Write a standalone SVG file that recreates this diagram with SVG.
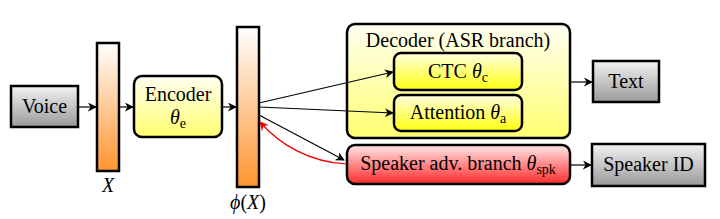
<svg xmlns="http://www.w3.org/2000/svg" width="720" height="219" viewBox="0 0 720 219">
<defs>
<linearGradient id="gGray" x1="0" y1="0" x2="0" y2="1"><stop offset="0" stop-color="#f2f2f2"/><stop offset="1" stop-color="#9a9a9a"/></linearGradient>
<linearGradient id="gOrange" x1="0" y1="0" x2="0" y2="1"><stop offset="0" stop-color="#ffffff"/><stop offset="1" stop-color="#ff9430"/></linearGradient>
<linearGradient id="gYellow" x1="0" y1="0" x2="0" y2="1"><stop offset="0" stop-color="#fffff2"/><stop offset="1" stop-color="#ffff70"/></linearGradient>
<linearGradient id="gYellow2" x1="0" y1="0" x2="0" y2="1"><stop offset="0" stop-color="#ffffe0"/><stop offset="1" stop-color="#ffff10"/></linearGradient>
<linearGradient id="gRed" x1="0" y1="0" x2="0" y2="1"><stop offset="0" stop-color="#ffe8e8"/><stop offset="1" stop-color="#ff2a2a"/></linearGradient>
<marker id="ah" viewBox="0 0 10 10" refX="9" refY="5" markerWidth="9" markerHeight="9" markerUnits="userSpaceOnUse" orient="auto"><path d="M0,0 L10,5 L0,10 L3,5 Z" fill="#000"/></marker>
<marker id="ahr" viewBox="0 0 10 10" refX="9" refY="5" markerWidth="9" markerHeight="9" markerUnits="userSpaceOnUse" orient="auto"><path d="M0,0 L10,5 L0,10 L3,5 Z" fill="#e00"/></marker>
</defs>
<style>
.t{font-family:'Liberation Serif','Times New Roman',serif;font-size:20px;fill:#000;text-anchor:middle}
.i{font-style:italic}
.s{font-size:14px}
.box{stroke:#000;stroke-width:2.5}
.c{fill:none;stroke:#000;stroke-width:1.2}
</style>
<g id="voice"><rect class="box" x="11" y="86" width="67" height="41" fill="url(#gGray)"/><text class="t" x="44.5" y="113">Voice</text></g>
<g id="x"><rect class="box" x="97" y="43" width="22" height="128" fill="url(#gOrange)"/><text class="t i" x="108" y="192">X</text></g>
<g id="encoder"><rect class="box" x="134" y="76" width="88" height="61" rx="8" fill="url(#gYellow)"/><text class="t" x="178" y="101">Encoder</text><text class="t" x="178" y="124"><tspan class="i">θ</tspan><tspan class="s" dy="4">e</tspan></text></g>
<g id="phi"><rect class="box" x="237" y="27" width="22" height="160" fill="url(#gOrange)"/><text class="t" x="248" y="209"><tspan class="i">ϕ</tspan>(<tspan class="i">X</tspan>)</text></g>
<g id="decoder"><rect class="box" x="347" y="24" width="223" height="114" rx="8" fill="url(#gYellow)"/><text class="t" x="458" y="47">Decoder (ASR branch)</text></g>
<g id="ctc"><rect class="box" x="394" y="53" width="128" height="37" rx="7" fill="url(#gYellow2)"/><text class="t" x="458" y="78">CTC <tspan class="i">θ</tspan><tspan class="s" dy="4">c</tspan></text></g>
<g id="attention"><rect class="box" x="394" y="95" width="128" height="36" rx="7" fill="url(#gYellow2)"/><text class="t" x="458" y="119">Attention <tspan class="i">θ</tspan><tspan class="s" dy="4">a</tspan></text></g>
<g id="speaker"><rect class="box" x="347" y="145" width="223" height="39" rx="8" fill="url(#gRed)"/><text class="t" x="458" y="170">Speaker adv. branch <tspan class="i">θ</tspan><tspan class="s" dy="4">spk</tspan></text></g>
<g id="text"><rect class="box" x="593" y="61" width="66" height="41" fill="url(#gGray)"/><text class="t" x="626" y="88">Text</text></g>
<g id="speakerid"><rect class="box" x="592" y="144" width="113" height="42" fill="url(#gGray)"/><text class="t" x="648.5" y="171">Speaker ID</text></g>
<g id="connectors">
<line class="c" x1="78" y1="107" x2="96" y2="107" marker-end="url(#ah)"/>
<line class="c" x1="119" y1="107" x2="133" y2="107" marker-end="url(#ah)"/>
<line class="c" x1="222" y1="107" x2="236" y2="107" marker-end="url(#ah)"/>
<line class="c" x1="259" y1="103" x2="393" y2="72" marker-end="url(#ah)"/>
<line class="c" x1="259" y1="107" x2="393" y2="113" marker-end="url(#ah)"/>
<line class="c" x1="259" y1="115" x2="344" y2="160" marker-end="url(#ah)"/>
<path d="M346,164 C310,162 280,145 260,122" fill="none" stroke="#e00" stroke-width="1.2" marker-end="url(#ahr)"/>
<line class="c" x1="570" y1="82" x2="592" y2="82" marker-end="url(#ah)"/>
<line class="c" x1="570" y1="165" x2="591" y2="165" marker-end="url(#ah)"/>
</g>
</svg>
